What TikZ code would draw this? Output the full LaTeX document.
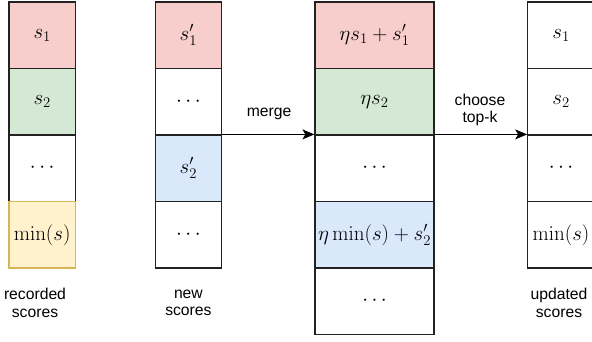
\RequirePackage{fix-cm}
\documentclass[tikz,border=0pt]{standalone}
\usepackage[no-math]{fontspec}
\newfontfamily\labelfont{Liberation Sans}
\usetikzlibrary{arrows.meta}
\definecolor{redfill}{HTML}{F8CECC}
\definecolor{greenfill}{HTML}{D5E8D4}
\definecolor{bluefill}{HTML}{DAE8FC}
\definecolor{yellowfill}{HTML}{FFF2CC}
\definecolor{yellowline}{HTML}{D6B656}
\definecolor{boxline}{HTML}{222222}
\tikzset{
  cell/.style={draw=boxline, line width=1.2pt, rectangle, inner sep=0pt,
    minimum height=66.5pt, font=\fontsize{21}{25}\selectfont},
  narrow/.style={cell, minimum width=66.5pt},
  wide/.style={cell, minimum width=119pt},
  lbl/.style={font=\labelfont\fontsize{15.7}{17.5}\selectfont, inner sep=0pt, align=center},
  flow/.style={draw=black, line width=1.2pt, -{Stealth[length=12pt,width=10pt,inset=3pt]}}
}
\begin{document}
\begin{tikzpicture}[x=1pt,y=-1pt]
\useasboundingbox (0,0) rectangle (592,341);
% column 1: recorded scores
\node[narrow, fill=redfill]   (a1) at (42.2,35.25)  {$s_1$};
\node[narrow, fill=greenfill] (a2) at (42.2,101.75) {$s_2$};
\node[narrow, fill=white]     (a3) at (42.2,168.25) {$\cdots$};
\node[narrow, fill=yellowfill, draw=yellowline] (a4) at (42.2,234.75) {$\min(s)$};
% column 2: new scores
\node[narrow, fill=redfill]   (b1) at (188.4,35.25)  {$s'_1$};
\node[narrow, fill=white]     (b2) at (188.4,101.75) {$\cdots$};
\node[narrow, fill=bluefill]  (b3) at (188.4,168.25) {$s'_2$};
\node[narrow, fill=white]     (b4) at (188.4,234.75) {$\cdots$};
% column 3: merged
\node[wide, fill=redfill]   (c1) at (374.5,35.25)  {$\eta s_1 + s'_1$};
\node[wide, fill=greenfill] (c2) at (374.5,101.75) {$\eta s_2$};
\node[wide, fill=white]     (c3) at (374.5,168.25) {$\cdots$};
\node[wide, fill=bluefill]  (c4) at (374.5,234.75) {$\eta\min(s) + s'_2$};
\node[wide, fill=white]     (c5) at (374.5,301.25) {$\cdots$};
% column 4: updated scores
\node[narrow, fill=white] (d1) at (561,35.25)  {$s_1$};
\node[narrow, fill=white] (d2) at (561,101.75) {$s_2$};
\node[narrow, fill=white] (d3) at (561,168.25) {$\cdots$};
\node[narrow, fill=white] (d4) at (561,234.75) {$\min(s)$};
% connectors
\draw[flow] (b3.north east) -- (c3.north west);
\draw[flow] (c3.north east) -- (d3.north west);
% labels
\node[lbl, anchor=base] (mergelbl) at (269,116) {merge};
\node[lbl] (toplbl) at (480,110) {choose\\top-k};
\node[lbl] (reclbl) at (35,303) {recorded\\scores};
\node[lbl] (newlbl) at (188.4,303) {new\\scores};
\node[lbl] (updlbl) at (559,303) {updated\\scores};
\end{tikzpicture}
\end{document}
